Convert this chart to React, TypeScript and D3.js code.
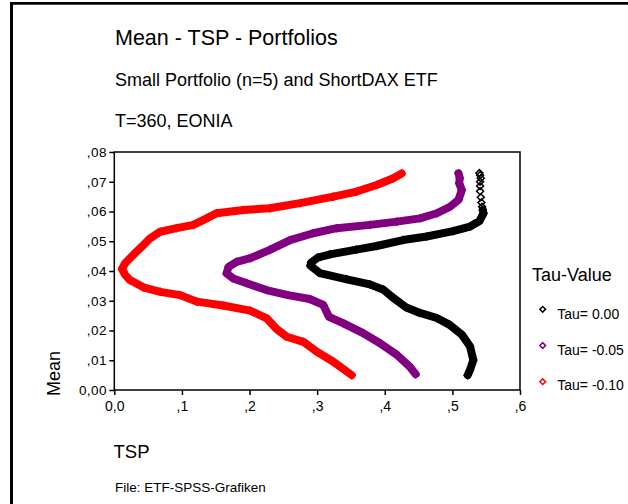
import React, { useEffect, useRef } from 'react';
import * as d3 from 'd3';

const xTicks = [0, 0.1, 0.2, 0.3, 0.4, 0.5, 0.6];
const xTickLabels = ['0,0', ',1', ',2', ',3', ',4', ',5', ',6'];
const yTicks = [0, 0.01, 0.02, 0.03, 0.04, 0.05, 0.06, 0.07, 0.08];
const yTickLabels = ['0,00', ',01', ',02', ',03', ',04', ',05', ',06', ',07', ',08'];

// [TSP, Mean]
const tau000Sparse: [number, number][] = [
  [0.540, 0.0729], [0.541, 0.0722], [0.542, 0.0712], [0.541, 0.0700],
  [0.541, 0.0686], [0.541, 0.0668], [0.542, 0.0648], [0.543, 0.0630], [0.544, 0.0616],
];
const tau000: [number, number][] = [
  [0.545, 0.0605], [0.546, 0.0594], [0.540, 0.0568], [0.526, 0.0549], [0.501, 0.0534],
  [0.462, 0.0516], [0.427, 0.0504], [0.388, 0.0484], [0.358, 0.0472], [0.319, 0.0456],
  [0.301, 0.0445], [0.291, 0.0428], [0.290, 0.0418], [0.304, 0.0393], [0.344, 0.0372], [0.378, 0.0355],
  [0.398, 0.0337], [0.413, 0.0309], [0.432, 0.0277], [0.452, 0.0259], [0.477, 0.0242],
  [0.496, 0.0219], [0.514, 0.0186], [0.526, 0.0147], [0.531, 0.0101], [0.526, 0.0067],
  [0.5226, 0.0050],
];
const tau005: [number, number][] = [
  [0.509, 0.0728], [0.511, 0.0712], [0.510, 0.0695], [0.514, 0.0672], [0.509, 0.0639],
  [0.4965, 0.0616], [0.477, 0.0594], [0.452, 0.0577], [0.418, 0.0566], [0.378, 0.0555],
  [0.329, 0.0544], [0.294, 0.0527], [0.260, 0.0504], [0.230, 0.0471], [0.201, 0.0443],
  [0.181, 0.0431], [0.169, 0.0414], [0.166, 0.0392], [0.176, 0.0375], [0.196, 0.0359],
  [0.225, 0.0336], [0.257, 0.0319], [0.289, 0.0306], [0.309, 0.0286], [0.3175, 0.0246],
  [0.339, 0.0224], [0.368, 0.0191], [0.393, 0.0157], [0.418, 0.0118], [0.437, 0.0078],
  [0.4457, 0.0053],
];
const tau010: [number, number][] = [
  [0.425, 0.0728], [0.4126, 0.0712], [0.388, 0.0689], [0.3585, 0.0667], [0.324, 0.0650],
  [0.2746, 0.0628], [0.230, 0.0611], [0.191, 0.0605], [0.151, 0.0594], [0.1366, 0.0577],
  [0.117, 0.0555], [0.092, 0.0544], [0.068, 0.0532], [0.053, 0.0510], [0.043, 0.0487],
  [0.028, 0.0454], [0.016, 0.0426], [0.0114, 0.0407], [0.016, 0.0387], [0.023, 0.0370],
  [0.043, 0.0345], [0.068, 0.0330], [0.097, 0.0319], [0.122, 0.0297], [0.161, 0.0284],
  [0.2007, 0.0267], [0.2254, 0.0241], [0.240, 0.0205], [0.255, 0.0179], [0.2795, 0.0162],
  [0.2993, 0.0129], [0.3239, 0.0095], [0.3511, 0.0050],
];

const seriesNames = ['Tau= 0.00', 'Tau= -0.05', 'Tau= -0.10'];
const seriesColors = ['#000000', '#800080', '#ff0000'];
const seriesCurves = [tau000, tau005, tau010];
const seriesSparse = [tau000Sparse, [], []] as [number, number][][];

const FONT = 'Liberation Sans, Arial, Helvetica, sans-serif';

export default function App() {
  const xAxisRef = useRef<SVGGElement>(null);
  const yAxisRef = useRef<SVGGElement>(null);

  const left = 114.3, right = 520, top = 152, bottom = 390;
  const x = d3.scaleLinear().domain([0, 0.6]).range([left, right]);
  const y = d3.scaleLinear().domain([0, 0.08]).range([bottom, top]);

  useEffect(() => {
    const xa = d3.axisBottom(x).tickValues(xTicks)
      .tickFormat((_d, i) => xTickLabels[i]).tickSize(5).tickPadding(6).tickSizeOuter(0);
    const gx = d3.select(xAxisRef.current!);
    gx.call(xa as any);
    gx.select('.domain').remove();
    gx.selectAll('line').attr('stroke', '#000').attr('stroke-width', 1.5);
    gx.selectAll('text').attr('font-family', FONT).attr('font-size', 14).attr('fill', '#000');

    const ya = d3.axisLeft(y).tickValues(yTicks)
      .tickFormat((_d, i) => yTickLabels[i]).tickSize(5).tickPadding(2.5).tickSizeOuter(0);
    const gy = d3.select(yAxisRef.current!);
    gy.call(ya as any);
    gy.select('.domain').remove();
    gy.selectAll('line').attr('stroke', '#000').attr('stroke-width', 1.5);
    gy.selectAll('text').attr('font-family', FONT).attr('font-size', 13.5)
      .attr('letter-spacing', 0.4).attr('fill', '#000');
  }, []);

  const line = d3.line<[number, number]>().x(d => x(d[0])).y(d => y(d[1]));
  const diamond = d3.symbol().type(d3.symbolSquare).size(24)();
  const legendDiamond = d3.symbol().type(d3.symbolSquare).size(16)();

  return (
    <svg width={628} height={504} style={{ position: 'absolute', left: 0, top: 0, background: '#fff' }}
      fontFamily={FONT}>
      <rect x={0} y={0} width={628} height={504} fill="#fff" />
      {/* outer frame */}
      <line x1={11.5} y1={2} x2={11.5} y2={504} stroke="#000" strokeWidth={3} />
      <line x1={10} y1={3.4} x2={628} y2={3.4} stroke="#000" strokeWidth={2.8} />

      <text x={115} y={45} fontSize={21.5} fill="#000">Mean - TSP - Portfolios</text>
      <text x={115} y={86} fontSize={18} fill="#000">Small Portfolio (n=5) and ShortDAX ETF</text>
      <text x={115} y={127} fontSize={18} fill="#000">T=360, EONIA</text>

      {/* plot frame */}
      <rect x={left} y={top} width={right - left} height={bottom - top} fill="none" stroke="#000" strokeWidth={1.5} />
      <g ref={xAxisRef} transform={`translate(0,${bottom})`} />
      <g ref={yAxisRef} transform={`translate(${left},0)`} />

      {/* series */}
      {seriesCurves.map((pts, si) => (
        <g key={si}>
          <path d={line(pts) || ''} fill="none" stroke={seriesColors[si]} strokeWidth={8}
            strokeLinejoin="round" strokeLinecap="round" />
          {pts.map((p, i) => (
            <path key={i} d={diamond || ''} transform={`translate(${x(p[0])},${y(p[1])}) rotate(45)`}
              fill="none" stroke={seriesColors[si]} strokeWidth={1.5} />
          ))}
          {seriesSparse[si].map((p, i) => (
            <path key={'s' + i} d={diamond || ''} transform={`translate(${x(p[0])},${y(p[1])}) rotate(45)`}
              fill="none" stroke={seriesColors[si]} strokeWidth={1.5} />
          ))}
        </g>
      ))}

      {/* axis titles */}
      <text transform="translate(60,396) rotate(-90)" fontSize={18} fill="#000">Mean</text>
      <text x={113.5} y={458} fontSize={18.5} fill="#000">TSP</text>
      <text x={115} y={491.5} fontSize={13.5} fill="#000">File: ETF-SPSS-Grafiken</text>

      {/* legend */}
      <text x={532} y={281} fontSize={18} fill="#000">Tau-Value</text>
      {seriesNames.map((name, i) => (
        <g key={name}>
          <path d={legendDiamond || ''} transform={`translate(542.7,${309.3 + i * 36.2}) rotate(45)`}
            fill="none" stroke={seriesColors[i]} strokeWidth={1.5} />
          <text x={557.3} y={319 + i * 35.5} fontSize={14} fill="#000">{name}</text>
        </g>
      ))}
    </svg>
  );
}
